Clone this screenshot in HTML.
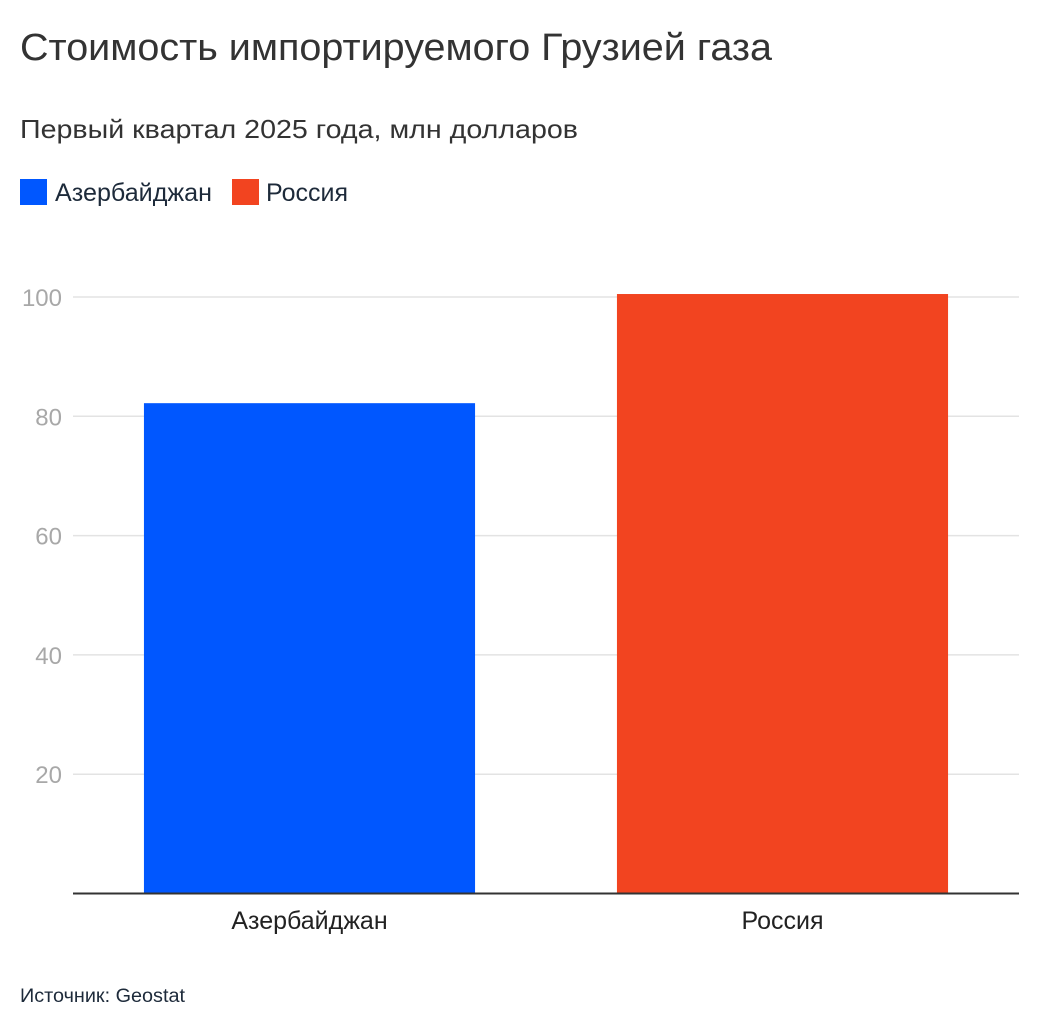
<!DOCTYPE html>
<html><head><meta charset="utf-8"><style>
html,body{margin:0;padding:0;background:#fff;}
svg text{font-family:"Liberation Sans",sans-serif;}
</style></head><body>
<svg id="chart" width="1040" height="1030" viewBox="0 0 1040 1030" xmlns="http://www.w3.org/2000/svg">
<text x="20" y="60" font-size="38" fill="#333" textLength="752" lengthAdjust="spacingAndGlyphs">Стоимость импортируемого Грузией газа</text>
<text x="20" y="138" font-size="26" fill="#333" textLength="558" lengthAdjust="spacingAndGlyphs">Первый квартал 2025 года, млн долларов</text>
<g>
<rect x="20" y="179" width="27" height="26" fill="#0057ff"/>
<text x="55" y="201" font-size="25" fill="#1d2a3a" textLength="157" lengthAdjust="spacingAndGlyphs">Азербайджан</text>
<rect x="232" y="179" width="27" height="26" fill="#f24420"/>
<text x="266" y="201" font-size="25" fill="#1d2a3a" textLength="82" lengthAdjust="spacingAndGlyphs">Россия</text>
</g>
<g id="grid"></g><g id="bars"></g><g id="axis"></g>
<text x="20" y="1002" font-size="19" fill="#1d2a3a" textLength="165" lengthAdjust="spacingAndGlyphs">Источник: Geostat</text>
</svg>
<script>
const categories = ["Азербайджан", "Россия"];
const values = [82.2, 100.5];
const tickValues = [20, 40, 60, 80, 100];
const tickLabels = ["20", "40", "60", "80", "100"];
const colors = ["#0057ff", "#f24420"];
const NS = "http://www.w3.org/2000/svg";
const x0 = 73, x1 = 1019, yBase = 893.5, pxPerUnit = 5.965;
const y = v => yBase - v * pxPerUnit;
const band = (x1 - x0) / categories.length;
const barW = band * 0.7;
const xBand = i => x0 + band * i + (band - barW) / 2;
function mk(tag, attrs, parent){const e=document.createElementNS(NS,tag);for(const k in attrs)e.setAttribute(k,attrs[k]);parent.appendChild(e);return e;}
const grid = document.getElementById("grid"), bars = document.getElementById("bars"), axis = document.getElementById("axis");
tickValues.forEach((v, i) => {
  const l = mk("line", {x1: x0, x2: x1, y1: y(v), y2: y(v), stroke: "#e3e3e3", "stroke-width": 1.5}, grid);
  
  
  const t = mk("text", {x: 62, y: y(v) + 9, "font-size": 24, fill: "#a8a8a8", "text-anchor": "end"}, grid);
  
  
  t.textContent = tickLabels[i];
});
categories.forEach((c, i) => {
  const r = mk("rect", {x: xBand(i), y: y(values[i]), width: barW, height: yBase - y(values[i]), fill: colors[i]}, bars);
  
  
  const t = mk("text", {x: xBand(i) + barW / 2, y: 929, "font-size": 25, fill: "#222", "text-anchor": "middle"}, axis);
  
  
  t.textContent = c;
});
const ax = mk("line", {x1: x0, x2: x1, y1: yBase, y2: yBase, stroke: "#333", "stroke-width": 2}, axis);


</script>
</body></html>
